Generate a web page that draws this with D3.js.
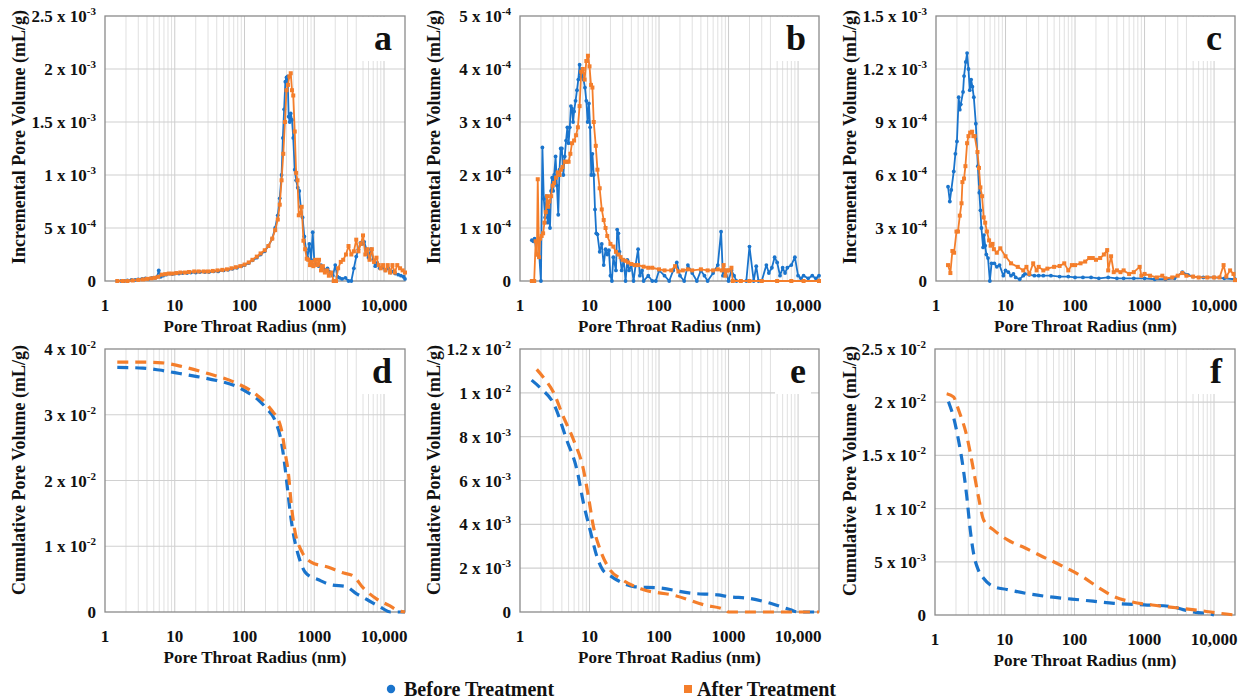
<!DOCTYPE html>
<html><head><meta charset="utf-8">
<script src="https://cdn.jsdelivr.net/npm/d3@7"></script>
<style>
body{margin:0;background:#fff}
</style></head>
<body><svg id="chart" width="1240" height="700"></svg>
<script>
// ---------- DATA (pore throat radius in nm; volumes in panel units) ----------
// Panel a: incremental, units 1e-3 mL/g
const aBeforeR = [1.5,1.7,1.9,2.1,2.4,2.7,3.0,3.4,3.8,4.2,4.7,5.2,5.6,5.9,6.3,6.8,7.5,8.3,9.2,10,11.5,13,15,17,20,23,27,31,36,42,50,58,67,78,90,100,115,130,150,170,195,220,250,275,300,320,340,355,370,385,400,415,430,445,460,480,500,525,550,580,610,640,680,720,760,800,850,900,950,1000,1080,1160,1250,1350,1450,1550,1700,1850,2000,2150,2300,2500,2800,3100,3400,3700,4000,4300,4600,4900,5200,5600,6000,6500,7000,7500,8000,8700,9500,10500,11500,12500,13500,14500,16000,17500,19000,20000];
const aBeforeV = [0,0,0,0.005,0.01,0.01,0.015,0.02,0.025,0.02,0.03,0.03,0.04,0.1,0.04,0.05,0.06,0.07,0.065,0.07,0.07,0.075,0.075,0.08,0.08,0.085,0.085,0.085,0.09,0.09,0.1,0.105,0.115,0.125,0.14,0.15,0.17,0.195,0.22,0.25,0.28,0.33,0.4,0.5,0.62,0.78,1.0,1.35,1.62,1.88,1.92,1.93,1.55,1.5,1.58,1.52,1.35,1.05,0.95,0.88,0.85,0.7,0.6,0.42,0.3,0.22,0.35,0.2,0.46,0.2,0.16,0.14,0.15,0.12,0.1,0.12,0.08,0.05,0.15,0.04,0.03,0.02,0.03,0.0,0.0,0.12,0.23,0.3,0.36,0.35,0.37,0.3,0.22,0.3,0.2,0.14,0.17,0.12,0.13,0.1,0.12,0.08,0.09,0.07,0.06,0.05,0.04,0.02];
const aAfterR = [1.5,1.8,2.1,2.5,3.0,3.5,4.0,4.6,5.2,5.8,6.5,7.3,8.2,9.2,10.5,12,14,16,19,22,26,30,35,41,48,56,65,75,87,100,115,130,150,170,195,220,250,275,300,320,340,360,380,400,420,440,460,480,500,525,550,575,600,630,660,700,740,780,820,870,920,970,1030,1100,1170,1250,1330,1420,1520,1620,1750,1900,2050,2200,2400,2600,2850,3100,3400,3700,4000,4300,4650,5000,5400,5800,6200,6700,7200,7800,8400,9000,9700,10500,11300,12200,13200,14300,15500,17000,18500,20000];
const aAfterV = [0,0,0,0.005,0.01,0.015,0.02,0.025,0.03,0.04,0.06,0.065,0.07,0.07,0.075,0.08,0.08,0.085,0.09,0.09,0.09,0.09,0.095,0.1,0.105,0.11,0.12,0.13,0.14,0.155,0.175,0.2,0.23,0.26,0.29,0.33,0.4,0.48,0.58,0.72,0.95,1.2,1.5,1.8,1.85,1.93,1.96,1.8,1.75,1.41,1.02,0.95,0.62,0.64,0.7,0.38,0.3,0.21,0.2,0.15,0.18,0.14,0.2,0.15,0.2,0.1,0.14,0.08,0.1,0.05,0.08,0.0,0.0,0.12,0.18,0.2,0.25,0.33,0.25,0.28,0.39,0.28,0.35,0.43,0.25,0.3,0.2,0.3,0.18,0.22,0.15,0.12,0.15,0.1,0.15,0.08,0.15,0.08,0.15,0.12,0.1,0.08];

// Panel b: incremental, units 1e-4 mL/g
const bBeforeR = [1.48,1.55,1.62,1.75,1.9,2.0,2.1,2.2,2.3,2.4,2.5,2.6,2.7,2.8,2.9,3.0,3.1,3.25,3.4,3.55,3.7,3.85,4.0,4.2,4.4,4.6,4.8,5.0,5.2,5.4,5.6,5.8,6.0,6.3,6.6,6.9,7.2,7.5,7.8,8.2,8.6,9.0,9.4,9.8,10.2,10.6,11,11.5,12,12.5,13,14,15,16,17,18,19,20,21,22,24,25,26,27,29,31,33,35,37,40,43,46,50,53,57,60,70,80,90,100,120,140,160,180,200,230,260,300,350,400,450,500,600,700,780,830,900,1000,1100,1200,1300,1500,1800,2000,2300,2500,2700,3000,3500,3800,4200,4600,5000,5500,6000,6500,7000,8000,9000,10000,11000,12000,14000,16000,18000,20000];
const bBeforeV = [0.77,0.75,0.8,0.5,0.45,0.0,2.52,1.55,1.2,1.6,1.1,1.35,1.0,1.7,1.95,1.7,2.0,2.35,1.8,1.25,2.1,2.5,2.5,2.0,2.35,2.65,2.9,2.6,2.9,3.3,3.25,3.0,3.2,3.4,3.6,3.8,4.08,3.85,3.9,3.8,3.65,3.4,3.0,3.35,2.9,2.0,2.4,2.0,1.35,0.9,0.88,0.55,0.7,0.3,0.6,0.5,0.58,0.1,0.0,0.45,0.2,0.97,0.9,0.55,0.2,0.4,0.0,0.4,0.2,0.3,0.0,0.3,0.6,0.1,0.2,0.0,0.1,0.0,0.0,0.2,0.1,0.0,0.2,0.35,0.1,0.0,0.3,0.15,0.0,0.2,0.1,0.0,0.15,0.3,0.93,0.1,0.2,0.0,0.2,0.1,0.0,0.0,0.0,0.65,0.0,0.28,0.0,0.0,0.3,0.15,0.25,0.45,0.35,0.1,0.25,0.15,0.25,0.3,0.45,0.1,0.05,0.1,0.05,0.1,0.05,0.1];
const bAfterR = [1.48,1.6,1.68,1.75,1.8,1.88,1.95,2.05,2.15,2.25,2.35,2.45,2.55,2.65,2.8,2.95,3.1,3.3,3.5,3.7,3.9,4.1,4.4,4.7,5.0,5.3,5.6,6.0,6.4,6.8,7.2,7.6,8.0,8.5,9.0,9.5,10.0,10.5,11,11.5,12.3,13,14,15,16,17,18,20,22,24,26,28,30,33,36,40,45,50,60,70,80,100,120,150,170,190,220,260,300,400,500,600,700,800,850,900,950,1000,1100,1150,1500,2000,3000,5000,8000,12000,20000];
const bAfterV = [0,0,0.75,0.5,1.92,0.45,0.8,0.85,0.9,1.1,1.3,1.6,1.4,1.5,1.6,1.8,1.85,1.95,2.05,2.0,2.1,2.15,2.25,2.25,2.25,2.4,2.6,2.65,2.75,2.9,3.3,3.95,4.0,3.8,4.15,4.25,4.05,3.7,3.65,3.0,2.55,2.1,1.75,1.35,1.15,1.0,0.85,0.7,0.65,0.55,0.5,0.45,0.4,0.38,0.35,0.32,0.3,0.3,0.27,0.25,0.25,0.22,0.2,0.2,0.28,0.18,0.2,0.22,0.2,0.22,0.2,0.2,0.22,0.2,0.3,0.1,0.2,0.2,0.25,0.0,0,0,0,0,0,0,0];

// Panel c: incremental, units 1e-4 mL/g (axis 0..15)
const cBeforeR = [1.49,1.58,1.66,1.8,1.9,2.0,2.12,2.2,2.27,2.45,2.53,2.68,2.8,2.93,3.06,3.2,3.34,3.5,3.74,4.0,4.2,4.36,4.5,4.76,4.9,5.1,5.3,5.6,5.95,6.3,6.9,7.5,8.2,9.3,10,11,12,13,14,16,18,19,22,26,30,35,45,60,80,100,130,170,220,300,400,500,700,1000,1400,2000,2700,3500,4200,5000,7000,10000,14000,20000];
const cBeforeV = [5.34,4.5,5.15,6.2,7.2,7.9,10.4,9.7,10.0,10.7,11.6,12.4,12.9,12.0,10.8,11.4,11.0,10.4,8.9,6.5,5.0,4.0,3.0,1.9,2.6,2.0,1.5,1.3,0.0,1.0,1.0,0.8,0.9,0.3,0.6,0.5,0.3,0.4,0.2,0.1,0.3,0.4,0.35,0.3,0.3,0.3,0.3,0.25,0.25,0.2,0.2,0.2,0.15,0.2,0.15,0.15,0.15,0.15,0.1,0.1,0.15,0.5,0.35,0.25,0.2,0.2,0.15,0.1];
const cAfterR = [1.49,1.61,1.72,1.82,1.97,2.07,2.2,2.33,2.4,2.53,2.65,2.8,2.93,3.1,3.3,3.45,3.6,3.95,4.15,4.35,4.6,4.85,5.1,5.4,5.8,6.1,6.5,6.8,7.5,8.4,10,12,15,18,20,22,25,28,30,35,40,50,60,70,80,90,100,120,140,160,180,200,230,260,290,300,330,360,400,450,500,600,700,850,900,1000,1200,1500,1800,2000,2500,3000,3500,4000,5000,6000,8000,10000,12000,13700,15000,17000,19000,20000];
const cAfterV = [0.9,0.45,1.7,1.6,2.8,2.8,3.7,4.4,5.6,5.8,6.5,7.8,8.2,8.4,8.45,8.2,8.2,7.3,6.4,5.3,4.8,3.6,3.3,2.8,2.3,2.0,2.1,1.8,1.6,1.85,1.4,1.0,0.8,0.6,0.8,0.4,1.0,0.6,0.8,0.6,0.7,0.8,0.85,1.0,0.6,0.9,0.9,1.0,1.1,1.3,1.3,1.2,1.3,1.5,1.75,0.6,1.4,0.5,0.6,0.5,0.6,0.4,0.5,0.8,0.3,0.4,0.3,0.2,0.3,0.15,0.2,0.3,0.45,0.3,0.25,0.2,0.2,0.2,0.2,0.9,0.25,0.6,0.4,0.05];

// Panel d: cumulative, units 1e-2 mL/g
const dBeforeR = [1.5,3.5,6,10,21,40,70,115,160,205,280,340,375,415,460,510,600,760,1150,1800,2800,4000,5700,8700,12500,20000];
const dBeforeV = [3.72,3.71,3.68,3.64,3.58,3.52,3.45,3.33,3.22,3.1,2.89,2.57,2.26,1.86,1.45,1.15,0.84,0.59,0.49,0.41,0.39,0.28,0.19,0.08,0.0,0.0];
const dAfterR = [1.5,3.5,6.6,12,29,70,150,240,330,390,430,460,520,670,900,1600,2500,3600,5000,7800,11800,16000,20000];
const dAfterV = [3.8,3.8,3.79,3.74,3.63,3.5,3.3,3.08,2.82,2.37,2.07,1.72,1.27,0.91,0.76,0.68,0.6,0.55,0.37,0.2,0.1,0.02,0.0];

// Panel e: cumulative, units 1e-3 mL/g
const eBeforeR = [1.47,2.0,3.03,4.7,6.6,8.2,10.2,12.8,15.5,20,24.8,45,100,300,700,1000,2000,4000,7800,10000,20000];
const eBeforeV = [10.58,10.2,9.52,7.85,6.48,4.96,3.74,2.52,1.92,1.65,1.46,1.15,1.1,0.85,0.78,0.7,0.62,0.4,0.1,0.0,0.0];
const eAfterR = [1.74,2.3,3.0,4.2,5.9,8.2,9.65,11.4,14.3,19,30,56,170,450,900,1000,2000,5000,20000];
const eAfterV = [11.07,10.6,10.05,8.91,7.85,6.48,5.26,3.89,2.83,2.0,1.46,1.05,0.75,0.32,0.09,0.0,0.0,0.0,0.0];

// Panel f: cumulative, units 1e-3 mL/g
const fBeforeR = [1.56,1.84,2.17,2.56,2.86,3.2,3.57,4.2,4.97,6.9,10.7,20,45,130,370,1000,2400,3600,5500,8000,10000];
const fBeforeV = [20.05,18.6,16.45,13.6,11.1,8.0,5.8,4.2,3.45,2.66,2.4,2.04,1.7,1.4,1.1,0.95,0.8,0.5,0.25,0.15,0.0];
const fAfterR = [1.47,1.84,2.17,2.86,3.57,4.2,5.0,6.9,11,20,35,70,130,230,370,640,1300,3400,7000,12000,20000];
const fAfterV = [20.8,20.5,19.3,16.8,13.6,11.1,8.9,8.0,7.05,6.27,5.48,4.54,3.6,2.5,1.72,1.25,0.94,0.63,0.38,0.16,0.0];

// Axis ticks
const xTickV = [1,10,100,1000,10000];
const xTickL = ["1","10","100","1000","10,000"];
const aTickV = [0,0.5,1,1.5,2,2.5];   const aTickM = ["0","5","1","1.5","2","2.5"];  const aTickE = ["","-4","-3","-3","-3","-3"];
const bTickV = [0,1,2,3,4,5];         const bTickM = ["0","1","2","3","4","5"];      const bTickE = ["","-4","-4","-4","-4","-4"];
const cTickV = [0,3,6,9,12,15];       const cTickM = ["0","3","6","9","1.2","1.5"];  const cTickE = ["","-4","-4","-4","-3","-3"];
const dTickV = [0,1,2,3,4];           const dTickM = ["0","1","2","3","4"];          const dTickE = ["","-2","-2","-2","-2"];
const eTickV = [0,2,4,6,8,10,12];     const eTickM = ["0","2","4","6","8","1","1.2"]; const eTickE = ["","-3","-3","-3","-3","-2","-2"];
const fTickV = [0,5,10,15,20,25];     const fTickM = ["0","5","1","1.5","2","2.5"];  const fTickE = ["","-3","-2","-2","-2","-2"];

const seriesNames = ["Before Treatment","After Treatment"];
const incTitle = "Incremental Pore Volume (mL/g)";
const cumTitle = "Cumulative Pore Volume (mL/g)";
const xTitle = "Pore Throat Radius (nm)";

// ---------- STYLE ----------
const BLUE = "#1a74cc", ORANGE = "#f47e2b";
const FONT = "'Liberation Serif', 'DejaVu Serif', serif";
const svg = d3.select("#chart");
function txt(sel) { return sel.append("text").attr("font-family", FONT).attr("font-weight", "bold").attr("fill", "#111"); }

const panels = [
  {L:"a", box:[105,405,16,281], yMax:2.5, tv:aTickV, tm:aTickM, te:aTickE, title:incTitle, tx:25, tcy:137, kind:"inc", s:[[aBeforeR,aBeforeV],[aAfterR,aAfterV]]},
  {L:"b", box:[520,819,16,281], yMax:5, tv:bTickV, tm:bTickM, te:bTickE, title:incTitle, tx:440, tcy:137, kind:"inc", s:[[bBeforeR,bBeforeV],[bAfterR,bAfterV]]},
  {L:"c", box:[936,1235,16,281], yMax:15, tv:cTickV, tm:cTickM, te:cTickE, title:incTitle, tx:856, tcy:137, kind:"inc", s:[[cBeforeR,cBeforeV],[cAfterR,cAfterV]]},
  {L:"d", box:[105,405,349,612], yMax:4, tv:dTickV, tm:dTickM, te:dTickE, title:cumTitle, tx:25, tcy:470, kind:"cum", s:[[dBeforeR,dBeforeV],[dAfterR,dAfterV]]},
  {L:"e", box:[520,819,349,612], yMax:12, tv:eTickV, tm:eTickM, te:eTickE, title:cumTitle, tx:440, tcy:470, kind:"cum", s:[[eBeforeR,eBeforeV],[eAfterR,eAfterV]]},
  {L:"f", box:[935,1235,349,615], yMax:25, tv:fTickV, tm:fTickM, te:fTickE, title:cumTitle, tx:856, tcy:471, kind:"cum", s:[[fBeforeR,fBeforeV],[fAfterR,fAfterV]]},
];

panels.forEach(p => {
  const [x0,x1,y0,y1] = p.box;
  const x = d3.scaleLog().domain([1,20000]).range([x0,x1]);
  const y = d3.scaleLinear().domain([0,p.yMax]).range([y1,y0]);
  const g = svg.append("g");

  const vg = [];
  for (let dec = 1; dec <= 10000; dec *= 10) for (let k = 1; k <= 9; k++) { const v = dec*k; if (v > 1 && v < 20000) vg.push(v); }
  g.selectAll(".vg").data(vg).enter().append("line")
    .attr("x1", d => x(d)).attr("x2", d => x(d)).attr("y1", y0).attr("y2", y1)
    .attr("stroke", d => xTickV.includes(d) ? "#cccccc" : "#e0e0e0").attr("stroke-width", 1);
  g.selectAll(".hg").data(p.tv.filter(v => v > 0 && v < p.yMax)).enter().append("line")
    .attr("x1", x0).attr("x2", x1).attr("y1", d => y(d)).attr("y2", d => y(d))
    .attr("stroke", "#d0d0d0").attr("stroke-width", 1.2);

  g.append("rect").attr("x", x1-44).attr("y", y0+1).attr("width", 36).attr("height", 44).attr("fill", "#fff");

  g.append("rect").attr("x", x0).attr("y", y0).attr("width", x1-x0).attr("height", y1-y0)
    .attr("fill", "none").attr("stroke", "#8a8a8a").attr("stroke-width", 1.3);

  const line = d3.line().x(d => x(d[0])).y(d => y(d[1]));
  const clip = "clip"+p.L;
  svg.append("clipPath").attr("id", clip).append("rect").attr("x", x0).attr("y", y0-4).attr("width", x1-x0+3).attr("height", y1-y0+6);
  const dg = g.append("g").attr("clip-path", `url(#${clip})`);
  p.s.forEach((ser, i) => {
    const pts = ser[0].map((r, j) => [r, ser[1][j]]);
    const col = i === 0 ? BLUE : ORANGE;
    if (p.kind === "inc") {
      dg.append("path").attr("d", line(pts)).attr("fill", "none").attr("stroke", col).attr("stroke-width", 1.8).attr("stroke-linejoin", "round");
      if (i === 0) {
        dg.selectAll(".m"+i).data(pts).enter().append("circle")
          .attr("cx", d => x(d[0])).attr("cy", d => y(d[1])).attr("r", 1.9).attr("fill", col);
      } else {
        dg.selectAll(".m"+i).data(pts).enter().append("rect")
          .attr("x", d => x(d[0])-2).attr("y", d => y(d[1])-2).attr("width", 4).attr("height", 4).attr("fill", col);
      }
    } else {
      const cl = d3.line().curve(d3.curveMonotoneX).x(d => x(d[0])).y(d => y(d[1]));
      dg.append("path").attr("d", cl(pts)).attr("fill", "none").attr("stroke", col).attr("stroke-width", 3.2)
        .attr("stroke-dasharray", "11,7");
    }
  });

  txt(g).attr("x", x1-13).attr("y", y0+34).attr("text-anchor", "end").attr("font-size", 36).text(p.L);

  xTickV.forEach((v, i) => {
    txt(g).attr("x", x(v)).attr("y", y1+30).attr("text-anchor", "middle").attr("font-size", 17).text(xTickL[i]);
  });
  txt(g).attr("x", (x0+x1)/2).attr("y", y1+51).attr("text-anchor", "middle").attr("font-size", 17).text(xTitle);

  p.tv.forEach((v, i) => {
    const t = txt(g).attr("x", x0-9).attr("y", y(v)+6).attr("text-anchor", "end").attr("font-size", 17);
    if (p.te[i] === "") { t.text(p.tm[i]); }
    else {
      t.append("tspan").text(p.tm[i] + " x 10");
      t.append("tspan").attr("dy", -7).attr("font-size", 11).text(p.te[i]);
    }
  });

  txt(g).attr("transform", `translate(${p.tx},${p.tcy}) rotate(-90)`).attr("text-anchor", "middle")
    .attr("font-size", 18).text(p.title);
});

const lg = svg.append("g");
lg.append("circle").attr("cx", 391).attr("cy", 689).attr("r", 4.2).attr("fill", BLUE);
txt(lg).attr("x", 404).attr("y", 696).attr("font-size", 20).text(seriesNames[0]);
lg.append("rect").attr("x", 684).attr("y", 685).attr("width", 8).attr("height", 8).attr("fill", ORANGE);
txt(lg).attr("x", 697).attr("y", 696).attr("font-size", 20).text(seriesNames[1]);
</script></body></html>
